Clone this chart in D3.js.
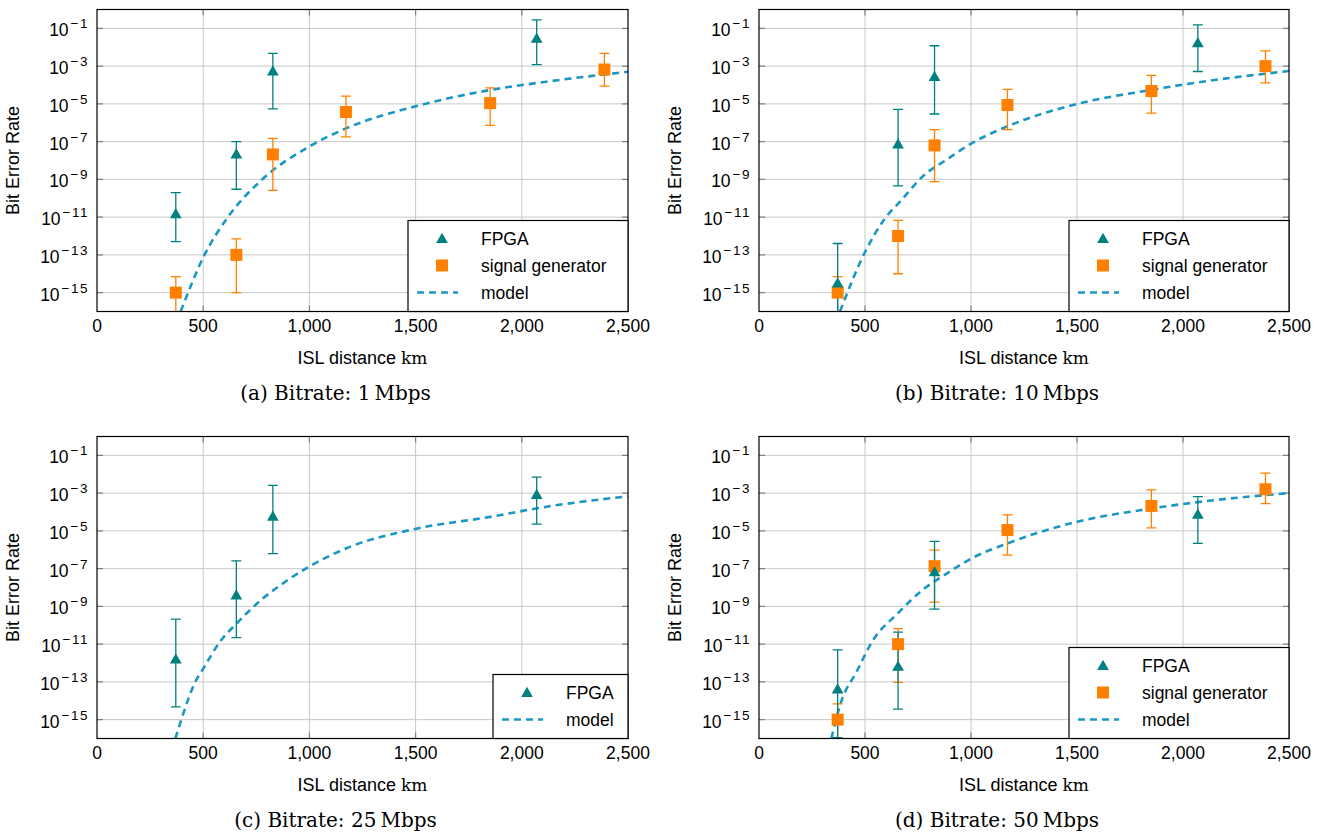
<!DOCTYPE html>
<html>
<head>
<meta charset="utf-8">
<script src="https://cdn.jsdelivr.net/npm/d3@7"></script>
<style>
  body { margin: 0; background: #fff; }
  text { font-family: "Liberation Sans", Arial, sans-serif; }
  .cap { font-family: "DejaVu Serif", "Liberation Serif", serif; }
</style>
</head>
<body>
<svg id="chart" width="1325" height="835"></svg>
<script>

// ---- data ----
var xTicks = [0, 500, 1000, 1500, 2000, 2500];
var yTickExps = [-1, -3, -5, -7, -9, -11, -13, -15];

var distFpga = [371, 656, 828, 2070];
var distSig = [371, 656, 828, 1172, 1851, 2389];

// (a) 1 Mbps
var fpgaA   = [1.5e-11, 2.2e-8, 5.5e-4, 3e-2];
var fpgaAHi = [2e-10, 1e-7, 4.7e-3, 0.28];
var fpgaALo = [5e-13, 3e-10, 5.4e-6, 1.2e-3];
var sigA    = [1e-15, 1e-13, 2.1e-8, 3.7e-6, 1.1e-5, 6.6e-4];
var sigAHi  = [7e-15, 7e-13, 1.5e-7, 2.6e-5, 7e-5, 4.7e-3];
var sigALo  = [1e-17, 1e-15, 2.6e-10, 1.8e-7, 7.2e-7, 8.7e-5];
var modelADist = [394, 502, 618, 775, 998, 1172, 1503, 1851, 2116, 2500];
var modelA     = [1e-16, 8.1e-14, 1.07e-11, 9.3e-10, 5.4e-8, 5e-7, 7.6e-6, 5.4e-5, 1.5e-4, 5e-4];

// (b) 10 Mbps
var fpgaB   = [3.2e-15, 7.4e-8, 2.8e-4, 1.7e-2];
var fpgaBHi = [4e-13, 5.1e-6, 1.2e-2, 0.155];
var fpgaBLo = [1e-17, 4.5e-10, 2.9e-6, 5.2e-4];
var sigB    = [1e-15, 1e-12, 6.3e-8, 8.7e-6, 4.8e-5, 1e-3];
var sigBHi  = [7e-15, 6.8e-12, 4.3e-7, 5.9e-5, 3.2e-4, 6.5e-3];
var sigBLo  = [1e-17, 1e-14, 7.6e-10, 4.3e-7, 3.2e-6, 1.3e-4];
var modelBDist = [382, 498, 589, 672, 771, 887, 1003, 1168, 1499, 1846, 2111, 2500];
var modelB     = [1e-16, 1.26e-13, 7.1e-12, 8.1e-11, 1.4e-9, 1.15e-8, 8.1e-8, 6.2e-7, 9.8e-6, 5.4e-5, 1.6e-4, 5.5e-4];

// (c) 25 Mbps
var fpgaC   = [1.6e-12, 4e-9, 5.9e-5, 8.3e-4];
var fpgaCHi = [2.1e-10, 2.6e-7, 2.6e-3, 7.1e-3];
var fpgaCLo = [4.7e-15, 2.2e-11, 6.3e-7, 2.3e-5];
var modelCDist = [369, 407, 460, 502, 576, 659, 775, 891, 998, 1172, 1503, 1851, 2116, 2500];
var modelC     = [1e-16, 2.2e-15, 8.7e-14, 5.4e-13, 1.2e-11, 1.3e-10, 2.3e-9, 2.2e-8, 1.26e-7, 1.17e-6, 1.3e-5, 5.5e-5, 1.9e-4, 6.8e-4];

// (d) 50 Mbps
var fpgaD   = [4.2e-14, 6.6e-13, 6.8e-8, 7.6e-5];
var fpgaDHi = [5e-12, 4.3e-11, 2.8e-6, 6.5e-4];
var fpgaDLo = [1.1e-16, 3.6e-15, 7.1e-10, 2.2e-6];
var sigD    = [1e-15, 1e-11, 1.35e-7, 1.1e-5, 2.1e-4, 1.6e-3];
var sigDHi  = [6.8e-15, 6.6e-11, 9.5e-7, 7.1e-5, 1.5e-3, 1.15e-2];
var sigDLo  = [1e-17, 9.3e-14, 1.7e-9, 5.2e-7, 1.45e-5, 2.75e-4];
var modelDDist = [341, 391, 457, 539, 655, 771, 887, 1003, 1168, 1499, 1846, 2111, 2500];
var modelD     = [1e-16, 1.15e-14, 2.9e-13, 1.7e-11, 4.3e-10, 7.4e-9, 5.6e-8, 3.5e-7, 2.1e-6, 3e-5, 1.5e-4, 3.8e-4, 1e-3];

var captions = ["(a) Bitrate: 1\u2009Mbps", "(b) Bitrate: 10\u2009Mbps", "(c) Bitrate: 25\u2009Mbps", "(d) Bitrate: 50\u2009Mbps"];

var teal = "#008080", orange = "#ff8000", modelColor = "#1a98c1";

function zip(xs, ys, hi, lo) {
    return xs.map(function(d, i) {
        return {x: d, y: ys[i], hi: hi ? hi[i] : null, lo: lo ? lo[i] : null};
    });
}

var panels = [
    {x0: 97, x1: 628, y0: 9.5, y1: 311.5, cap: captions[0],
     fpga: zip(distFpga, fpgaA, fpgaAHi, fpgaALo), sig: zip(distSig, sigA, sigAHi, sigALo),
     model: zip(modelADist, modelA), legW: 220},
    {x0: 759, x1: 1289, y0: 9.5, y1: 311.5, cap: captions[1],
     fpga: zip(distFpga, fpgaB, fpgaBHi, fpgaBLo), sig: zip(distSig, sigB, sigBHi, sigBLo),
     model: zip(modelBDist, modelB), legW: 220},
    {x0: 97, x1: 628, y0: 436.5, y1: 738.5, cap: captions[2],
     fpga: zip(distFpga, fpgaC, fpgaCHi, fpgaCLo), sig: null,
     model: zip(modelCDist, modelC), legW: 135},
    {x0: 759, x1: 1289, y0: 436.5, y1: 738.5, cap: captions[3],
     fpga: zip(distFpga, fpgaD, fpgaDHi, fpgaDLo), sig: zip(distSig, sigD, sigDHi, sigDLo),
     model: zip(modelDDist, modelD), legW: 220}
];

var svg = d3.select("#chart");
var tri = d3.symbol().type(d3.symbolTriangle).size(60);

function renderPanel(p, idx) {
    var x = d3.scaleLinear().domain([0, 2500]).range([p.x0, p.x1]);
    var y = d3.scaleLog().domain([1e-16, 1]).range([p.y1, p.y0]);
    var g = svg.append("g");

    g.append("clipPath").attr("id", "clip" + idx)
        .append("rect")
        .attr("x", p.x0).attr("y", p.y0)
        .attr("width", p.x1 - p.x0).attr("height", p.y1 - p.y0);

    // grid
    g.selectAll(".gx").data(xTicks.slice(1, -1)).enter().append("line")
        .attr("x1", d => x(d)).attr("x2", d => x(d))
        .attr("y1", p.y0).attr("y2", p.y1)
        .attr("stroke", "#c8c8c8").attr("stroke-width", 1);
    g.selectAll(".gy").data(yTickExps).enter().append("line")
        .attr("x1", p.x0).attr("x2", p.x1)
        .attr("y1", d => y(Math.pow(10, d))).attr("y2", d => y(Math.pow(10, d)))
        .attr("stroke", "#c8c8c8").attr("stroke-width", 1);

    // tick marks inside the frame
    xTicks.slice(1, -1).forEach(function(t) {
        g.append("line").attr("x1", x(t)).attr("x2", x(t)).attr("y1", p.y1).attr("y2", p.y1 - 6)
            .attr("stroke", "#808080").attr("stroke-width", 1.2);
        g.append("line").attr("x1", x(t)).attr("x2", x(t)).attr("y1", p.y0).attr("y2", p.y0 + 6)
            .attr("stroke", "#808080").attr("stroke-width", 1.2);
    });
    yTickExps.forEach(function(e) {
        var yy = y(Math.pow(10, e));
        g.append("line").attr("x1", p.x0).attr("x2", p.x0 + 6).attr("y1", yy).attr("y2", yy)
            .attr("stroke", "#808080").attr("stroke-width", 1.2);
        g.append("line").attr("x1", p.x1).attr("x2", p.x1 - 6).attr("y1", yy).attr("y2", yy)
            .attr("stroke", "#808080").attr("stroke-width", 1.2);
    });

    // tick labels
    g.selectAll(".xl").data(xTicks).enter().append("text")
        .attr("x", d => x(d)).attr("y", p.y1 + 20)
        .attr("text-anchor", "middle").attr("font-size", 17.5)
        .text(d => d3.format(",")(d));
    var yl = g.selectAll(".yl").data(yTickExps).enter().append("text")
        .attr("x", p.x0 - 8).attr("y", d => y(Math.pow(10, d)) + 8)
        .attr("text-anchor", "end").attr("font-size", 17.5);
    yl.append("tspan").text("10");
    yl.append("tspan").attr("dy", -8).attr("dx", 2).attr("font-size", 13.5)
        .attr("letter-spacing", 1.5).text(d => "\u2212" + (-d));

    // axis labels
    var xl = g.append("text").attr("x", (p.x0 + p.x1) / 2).attr("y", p.y1 + 52)
        .attr("text-anchor", "middle").attr("font-size", 18);
    xl.append("tspan").text("ISL distance ");
    xl.append("tspan").attr("font-family", "DejaVu Serif, serif").attr("font-size", 17).text("km");
    g.append("text")
        .attr("transform", "translate(" + (p.x0 - 78) + "," + ((p.y0 + p.y1) / 2) + ") rotate(-90)")
        .attr("text-anchor", "middle").attr("font-size", 18)
        .text("Bit Error Rate");

    // caption is centred on the whole subfigure, y label included
    g.append("text").attr("class", "cap")
        .attr("x", (p.x0 + p.x1) / 2 - 27).attr("y", p.y1 + 88)
        .attr("text-anchor", "middle").attr("font-size", 20)
        .text(p.cap);

    // model curve
    var line = d3.line().x(d => x(d.x)).y(d => y(d.y)).curve(d3.curveMonotoneX);
    var plot = g.append("g").attr("clip-path", "url(#clip" + idx + ")");
    plot.append("path").datum(p.model)
        .attr("d", line).attr("fill", "none")
        .attr("stroke", modelColor).attr("stroke-width", 2.6)
        .attr("stroke-dasharray", "7,5");

    function errorBars(data, color) {
        var eb = plot.selectAll(null).data(data).enter().append("g");
        eb.append("line")
            .attr("x1", d => x(d.x)).attr("x2", d => x(d.x))
            .attr("y1", d => y(d.hi)).attr("y2", d => y(d.lo))
            .attr("stroke", color).attr("stroke-width", 1.3);
        eb.append("line")
            .attr("x1", d => x(d.x) - 5).attr("x2", d => x(d.x) + 5)
            .attr("y1", d => y(d.hi)).attr("y2", d => y(d.hi))
            .attr("stroke", color).attr("stroke-width", 1.3);
        eb.append("line")
            .attr("x1", d => x(d.x) - 5).attr("x2", d => x(d.x) + 5)
            .attr("y1", d => y(d.lo)).attr("y2", d => y(d.lo))
            .attr("stroke", color).attr("stroke-width", 1.3);
    }

    if (p.sig) errorBars(p.sig, orange);
    errorBars(p.fpga, teal);

    if (p.sig) {
        g.selectAll(null).data(p.sig).enter().append("rect")
            .attr("x", d => x(d.x) - 6).attr("y", d => y(d.y) - 6)
            .attr("width", 12).attr("height", 12)
            .attr("fill", orange);
    }
    g.selectAll(null).data(p.fpga).enter().append("path")
        .attr("d", tri)
        .attr("transform", d => "translate(" + x(d.x) + "," + (y(d.y) + 1) + ")")
        .attr("fill", teal);

    // frame
    g.append("rect")
        .attr("x", p.x0).attr("y", p.y0)
        .attr("width", p.x1 - p.x0).attr("height", p.y1 - p.y0)
        .attr("fill", "none").attr("stroke", "#000").attr("stroke-width", 1.2);

    // legend
    var items = [{name: "FPGA", kind: "tri"}];
    if (p.sig) items.push({name: "signal generator", kind: "sq"});
    items.push({name: "model", kind: "line"});
    var lh = 18 + 27 * (items.length - 1) + 19;
    var lx = p.x1 - p.legW, ly = p.y1 - lh;
    var leg = g.append("g");
    leg.append("rect").attr("x", lx).attr("y", ly)
        .attr("width", p.legW).attr("height", lh)
        .attr("fill", "#fff").attr("stroke", "#000").attr("stroke-width", 1.2);
    items.forEach(function(it, i) {
        var cy = ly + 18 + 27 * i;
        if (it.kind === "tri") {
            leg.append("path").attr("d", tri)
                .attr("transform", "translate(" + (lx + 34) + "," + (cy + 1) + ")")
                .attr("fill", teal);
        } else if (it.kind === "sq") {
            leg.append("rect").attr("x", lx + 28).attr("y", cy - 6)
                .attr("width", 12).attr("height", 12).attr("fill", orange);
        } else {
            leg.append("line").attr("x1", lx + 9).attr("x2", lx + 50)
                .attr("y1", cy).attr("y2", cy)
                .attr("stroke", modelColor).attr("stroke-width", 2.6)
                .attr("stroke-dasharray", "7,5");
        }
        leg.append("text").attr("x", lx + 73).attr("y", cy + 6.5)
            .attr("font-size", 17.5).text(it.name);
    });
}

panels.forEach(renderPanel);

</script>
</body>
</html>
